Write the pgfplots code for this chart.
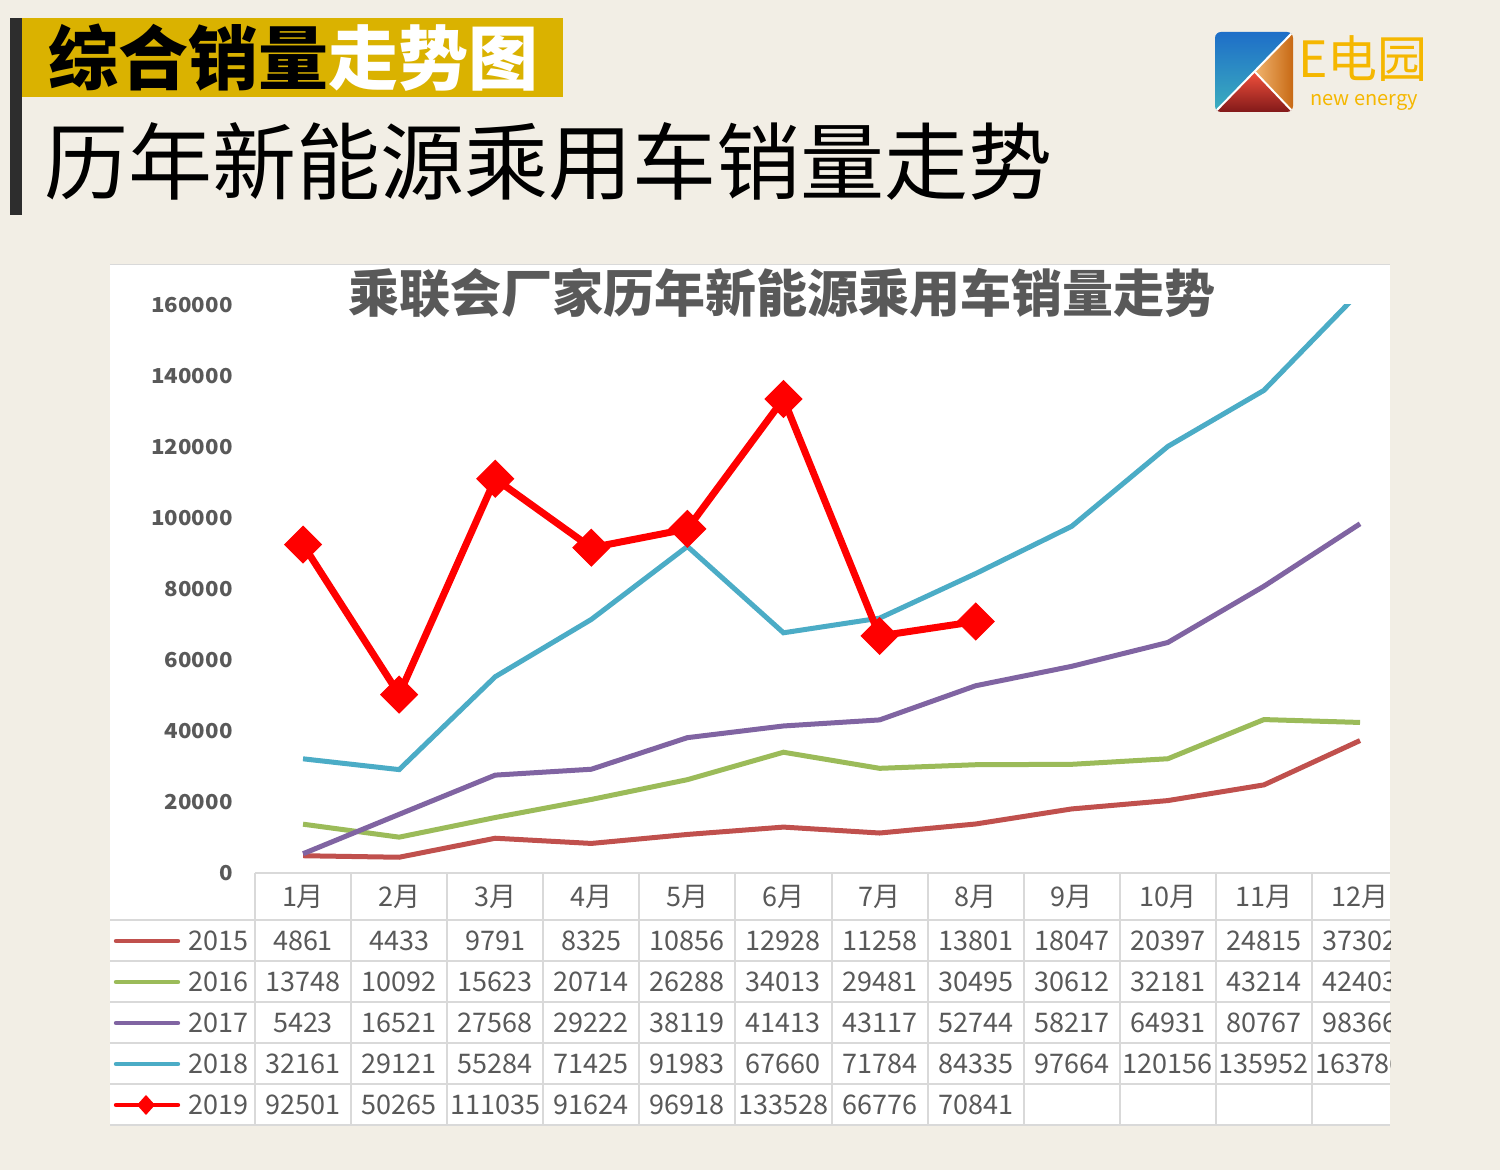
\documentclass[border=0pt]{standalone}
\usepackage{pgfplots}
\pgfplotsset{compat=1.18}
\usepackage{pgfplotstable}
\usepackage{fontspec}
\setmainfont{Noto Sans CJK SC}
\newfontfamily\tickfont[FakeStretch=1.08]{Noto Sans CJK SC}
\newfontfamily\tabfont{Noto Sans CJK SC}
\definecolor{bg}{RGB}{242,238,229}
\definecolor{gold}{RGB}{218,178,0}
\definecolor{darkbar}{RGB}{45,45,45}
\definecolor{txtgray}{RGB}{89,89,89}
\definecolor{gridc}{RGB}{217,217,217}
\definecolor{c15}{RGB}{192,80,77}
\definecolor{c16}{RGB}{155,187,89}
\definecolor{c17}{RGB}{128,100,162}
\definecolor{c18}{RGB}{75,172,198}
\definecolor{c19}{RGB}{255,0,0}
\definecolor{logoy}{RGB}{245,183,0}

\pgfplotstableread{
m y2015 y2016 y2017 y2018 y2019
0 4861 13748 5423 32161 92501
1 4433 10092 16521 29121 50265
2 9791 15623 27568 55284 111035
3 8325 20714 29222 71425 91624
4 10856 26288 38119 91983 96918
5 12928 34013 41413 67660 133528
6 11258 29481 43117 71784 66776
7 13801 30495 52744 84335 70841
8 18047 30612 58217 97664 nan
9 20397 32181 64931 120156 nan
10 24815 43214 80767 135952 nan
11 37302 42403 98366 163786 nan
}\data

\begin{document}
\begin{tikzpicture}[x=0.5pt,y=0.5pt]
% background
\fill[bg] (0,0) rectangle (1500,1170);
% header
\fill[darkbar] (10,955) rectangle (22,1152);
\fill[gold] (22,1073) rectangle (563,1152);
\node[anchor=west,inner sep=0pt,font=\bfseries\fontsize{35}{37}\selectfont] at (48,1112)
  {\textcolor{black}{综合销量}\textcolor{white}{走势图}};
\node[anchor=west,inner sep=0pt,font=\fontsize{42}{44}\selectfont] at (44,1008) {历年新能源乘用车销量走势};
% logo
\begin{scope}
\clip[rounded corners=3pt] (1215,1058) rectangle (1293,1138);
\shade[top color={rgb,255:red,30;green,110;blue,200}, bottom color={rgb,255:red,60;green,175;blue,190}] (1215,1138) -- (1293,1138) -- (1215,1058) -- cycle;
\shade[left color={rgb,255:red,240;green,180;blue,110}, right color={rgb,255:red,200;green,105;blue,20}] (1293,1138) -- (1293,1058) -- (1255,1098) -- cycle;
\shade[top color={rgb,255:red,240;green,80;blue,60}, bottom color={rgb,255:red,130;green,25;blue,25}] (1215,1058) -- (1293,1058) -- (1255,1098) -- cycle;
\draw[white,line width=1pt] (1215,1058) -- (1293,1138);
\draw[white,line width=1pt] (1255,1098) -- (1293,1058);
\end{scope}
\node[anchor=west,inner sep=0pt,text=logoy,font=\fontsize{25}{27}\selectfont] at (1298,1111) {E电园};
\node[anchor=west,inner sep=0pt,text=logoy,font=\fontsize{10}{12}\selectfont] at (1310,1068) {new energy};

% chart panel
\fill[white] (110,45) rectangle (1390,905);
\draw[gridc,line width=0.5pt] (110,905) -- (1390,905);
\node[text=txtgray,font=\bfseries\fontsize{25.5}{27}\selectfont] at (782,877) {乘联会厂家历年新能源乘用车销量走势};

\coordinate (O) at (255,297);
\begin{axis}[
  at={(O)}, anchor=south west,
  scale only axis, width=567.5pt, height=284pt,
  xmin=-0.5, xmax=11.312, ymin=0, ymax=160000,
  axis line style={draw=none}, tick style={draw=none},
  xtick=\empty, ytick={0,20000,40000,60000,80000,100000,120000,140000,160000},
  yticklabels={0,20000,40000,60000,80000,100000,120000,140000,160000},
  scaled y ticks=false,
  yticklabel style={text=txtgray, font=\tickfont\bfseries\fontsize{10.3}{12}\selectfont, inner sep=0pt, xshift=-11pt},
  clip=true,
]
\addplot[c15, line width=2.5pt] table[x=m,y=y2015] {\data};
\addplot[c16, line width=2.5pt] table[x=m,y=y2016] {\data};
\addplot[c17, line width=2.5pt] table[x=m,y=y2017] {\data};
\addplot[c18, line width=2.5pt] table[x=m,y=y2018] {\data};
\addplot[c19, line width=3.5pt, mark=square*, mark size=6.5pt, mark options={rotate=45, line width=0.5pt, fill=c19}] table[x=m,y=y2019] {\data};
\end{axis}

% data table
\begin{scope}
\clip (100,0) rectangle (1390,1170);
\draw[gridc,line width=1pt] (255,297) -- (1390,297);
\foreach \yy in {250,209,168,127,86,45} \draw[gridc,line width=1pt] (110,\yy) -- (1390,\yy);
\foreach \k in {0,...,11} \draw[gridc,line width=1pt] ({255+\k*96.09},297) -- ({255+\k*96.09},45);
\def\nanstr{nan}
\foreach \r in {0,...,11}{
  \pgfmathsetmacro\cx{303+\r*96.09}
  \pgfmathtruncatemacro\mm{\r+1}
  \node[text=txtgray,font=\tabfont\fontsize{13.5}{15}\selectfont] at (\cx,273) {\mm 月};
  \foreach \c/\yy in {y2015/229,y2016/188,y2017/147,y2018/106,y2019/65}{
    \pgfplotstablegetelem{\r}{\c}\of\data
    \edef\tmpv{\pgfplotsretval}
    \ifx\tmpv\nanstr\else
      \node[text=txtgray,font=\tabfont\fontsize{13.5}{15}\selectfont] at (\cx,\yy) {\tmpv};
    \fi
  }
}
\end{scope}
% legend keys
\foreach \yy/\cc/\yr in {229/c15/2015,188/c16/2016,147/c17/2017,106/c18/2018,65/c19/2019}{
  \draw[\cc,line width=2.2pt,line cap=round] (116,\yy) -- (178,\yy);
  \node[anchor=east,inner sep=0pt,text=txtgray,font=\tabfont\fontsize{13.5}{15}\selectfont] at (249,\yy) {\yr};
}
\fill[c19] (146,75) -- (155,65) -- (146,55) -- (137,65) -- cycle;

\pgfresetboundingbox
\path (0,0) rectangle (1500,1170);
\end{tikzpicture}
\end{document}
